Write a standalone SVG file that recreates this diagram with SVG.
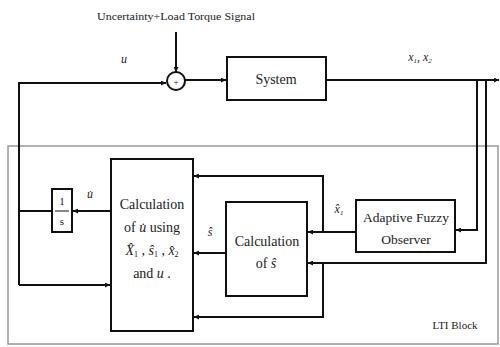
<svg xmlns="http://www.w3.org/2000/svg" width="500" height="347" viewBox="0 0 500 347">
<style>
.ln{fill:none;stroke:#111;stroke-width:2}
.bx{fill:#fff;stroke:#111;stroke-width:2}
.t{font-family:"Liberation Serif","DejaVu Serif",serif;fill:#222;text-anchor:middle}
.i{font-style:italic}
.lti{fill:none;stroke:#999;stroke-width:1.5}
</style>
<defs>
<marker id="a" viewBox="0 0 10 10" refX="10" refY="5" markerWidth="5" markerHeight="5" orient="auto" markerUnits="userSpaceOnUse"><path d="M0,0L10,5L0,10z" fill="#111"/></marker>
</defs>
<rect class="lti" x="8" y="146" width="490" height="198"/>
<g id="connectors">
<line class="ln" x1="176" y1="32" x2="176" y2="72" marker-end="url(#a)"/>
<polyline class="ln" points="19,285 19,83 166,83" marker-end="url(#a)"/>
<line class="ln" x1="19" y1="285" x2="110" y2="285" marker-end="url(#a)"/>
<line class="ln" x1="185" y1="80" x2="226" y2="80" marker-end="url(#a)"/>
<line class="ln" x1="326" y1="80" x2="499" y2="80" marker-end="url(#a)"/>
<polyline class="ln" points="477,80 477,230 456,230" marker-end="url(#a)"/>
<polyline class="ln" points="486,80 486,263 308,263" marker-end="url(#a)"/>
<line class="ln" x1="356" y1="232" x2="308" y2="232" marker-end="url(#a)"/>
<polyline class="ln" points="323,232 323,176 194,176" marker-end="url(#a)"/>
<polyline class="ln" points="323,263 323,317 194,317" marker-end="url(#a)"/>
<line class="ln" x1="226" y1="253" x2="194" y2="253" marker-end="url(#a)"/>
<line class="ln" x1="111" y1="211" x2="73" y2="211" marker-end="url(#a)"/>
<line class="ln" x1="52" y1="211" x2="19" y2="211"/>
</g>
<g id="sum">
<circle class="bx" cx="176" cy="81" r="9"/>
<text class="t" x="176" y="85" font-size="9">+</text>
</g>
<g id="system">
<rect class="bx" x="227" y="57" width="99" height="43"/>
<text class="t" x="276" y="84" font-size="14">System</text>
</g>
<g id="observer">
<rect class="bx" x="356" y="200" width="99" height="52"/>
<text class="t" x="406" y="222" font-size="13.5">Adaptive Fuzzy</text>
<text class="t" x="406" y="244" font-size="13.5">Observer</text>
</g>
<g id="calc-s">
<rect class="bx" x="226" y="202" width="81" height="94"/>
<text class="t" x="267" y="246" font-size="14">Calculation</text>
<text class="t" x="266" y="268" font-size="14">of <tspan class="i">ŝ</tspan></text>
</g>
<g id="calc-u">
<rect class="bx" x="111" y="159" width="82" height="172"/>
<text class="t" x="152" y="209" font-size="14">Calculation</text>
<text class="t" x="152" y="232" font-size="14">of <tspan class="i">u̇</tspan> using</text>
<text class="t" x="152" y="255" font-size="14"><tspan class="i">X̂</tspan><tspan font-size="8" dy="2">1</tspan><tspan dy="-2"> , </tspan><tspan class="i">ŝ</tspan><tspan font-size="8" dy="2">1</tspan><tspan dy="-2"> , </tspan><tspan class="i">x̂</tspan><tspan font-size="8" dy="2">2</tspan></text>
<text class="t" x="152" y="278" font-size="14">and <tspan class="i">u</tspan> .</text>
</g>
<g id="integrator">
<rect class="bx" x="52" y="189" width="20" height="43"/>
<text class="t" x="62" y="205" font-size="11">1</text>
<line x1="55" y1="211" x2="69" y2="211" stroke="#111" stroke-width="1"/>
<text class="t" x="62" y="225" font-size="11">s</text>
</g>
<g id="labels">
<text class="t" x="176" y="20" font-size="11" textLength="158" lengthAdjust="spacingAndGlyphs">Uncertainty+Load Torque Signal</text>
<text class="t i" x="124" y="63" font-size="12">u</text>
<text class="t i" x="420" y="61" font-size="12">x<tspan font-size="7" dy="2">1</tspan><tspan dy="-2">, </tspan>x<tspan font-size="7" dy="2">2</tspan></text>
<text class="t i" x="210" y="236" font-size="12">ŝ</text>
<text class="t i" x="339" y="213" font-size="12">x̂<tspan font-size="7" dy="2">1</tspan></text>
<text class="t i" x="90" y="198" font-size="12">u̇</text>
<text class="t" x="455" y="329" font-size="11">LTI Block</text>
</g>
</svg>
